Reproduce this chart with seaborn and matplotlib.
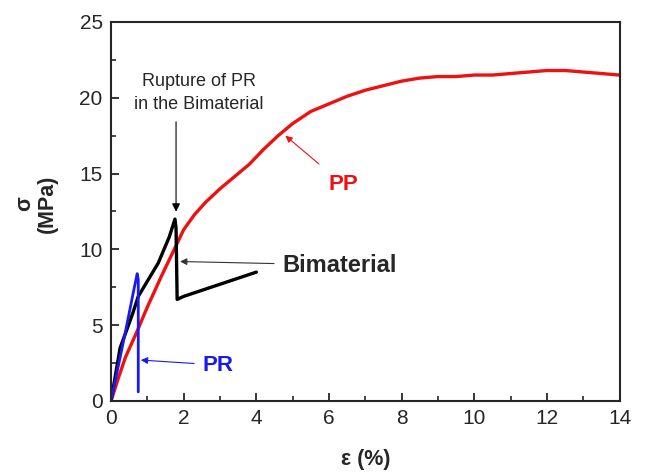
import matplotlib
matplotlib.use("Agg")
import matplotlib.pyplot as plt
import seaborn as sns
import pandas as pd
from matplotlib.ticker import MultipleLocator

# PP curve
pp_x = [0, 0.2, 0.4, 0.7, 1.0, 1.4, 1.8, 2.0, 2.3, 2.6, 3.0, 3.4, 3.8, 4.2, 4.6, 5.0, 5.5, 6.0, 6.5, 7.0, 7.5, 8.0, 8.5, 9.0,
        9.5, 10.0, 10.5, 11.0, 11.5, 12.0, 12.5, 13.0, 13.5, 14.0]
pp_y = [0, 1.5, 2.9, 4.5, 6.2, 8.3, 10.3, 11.3, 12.3, 13.1, 14.0, 14.8, 15.6, 16.6, 17.5, 18.3, 19.1, 19.6, 20.1, 20.5, 20.8, 21.1, 21.3, 21.4,
        21.4, 21.5, 21.5, 21.6, 21.7, 21.8, 21.8, 21.7, 21.6, 21.5]
# Bimaterial curve
bi_x = [0, 0.25, 0.45, 0.6, 0.75, 1.0, 1.3, 1.6, 1.76, 1.79, 1.82, 2.0, 2.5, 3.0, 3.5, 4.0]
bi_y = [0, 3.5, 4.8, 5.8, 6.9, 7.9, 9.1, 10.8, 12.0, 11.4, 6.7, 6.9, 7.3, 7.7, 8.1, 8.5]
# PR curve
pr_x = [0, 0.2, 0.4, 0.6, 0.72, 0.75, 0.75]
pr_y = [0, 2.3, 4.6, 7.0, 8.4, 8.0, 0.6]

x_ticks = [0, 2, 4, 6, 8, 10, 12, 14]
y_ticks = [0, 5, 10, 15, 20, 25]

sns.set_style("ticks")
plt.rcParams['font.family'] = ['Liberation Sans', 'DejaVu Sans']

fig = plt.figure(figsize=(6.47, 4.76), dpi=100)
ax = fig.add_axes([0.1716, 0.1576, 0.786, 0.7962])

for xs, ys, col, lw in [(pp_x, pp_y, '#ee1111', 2.4), (bi_x, bi_y, 'black', 2.4), (pr_x, pr_y, '#1a1aee', 2.0)]:
    df = pd.DataFrame({'x': xs, 'y': ys})
    sns.lineplot(data=df, x='x', y='y', ax=ax, color=col, lw=lw, sort=False, estimator=None)

ax.set_xlim(0, 14)
ax.set_ylim(0, 25)
ax.set_xticks(x_ticks)
ax.set_yticks(y_ticks)
ax.xaxis.set_minor_locator(MultipleLocator(1))
ax.yaxis.set_minor_locator(MultipleLocator(2.5))
ax.tick_params(which='major', direction='in', length=6, width=1.3, labelsize=15, pad=6, top=False, right=False)
ax.tick_params(which='minor', direction='in', length=3.5, width=1.2, top=False, right=False)
for s in ax.spines.values():
    s.set_linewidth(1.5)
    s.set_visible(True)

ax.set_xlabel('ε (%)', fontsize=15.5, fontweight='bold')
ax.set_ylabel('σ\n(MPa)', fontsize=15.5, fontweight='bold', linespacing=1.15)
ax.xaxis.set_label_coords(0.5, -0.128)
ax.yaxis.set_label_coords(-0.104, 0.52)

ax.text(2.42, 20.3, 'Rupture of PR\nin the Bimaterial', fontsize=13, ha='center', va='center', linespacing=1.45)
ax.annotate('', xy=(1.79, 12.3), xytext=(1.79, 18.6),
            arrowprops=dict(arrowstyle='-|>', color='black', lw=0.8, mutation_scale=12))
ax.annotate('Bimaterial', xy=(1.9, 9.2), xytext=(4.73, 8.97), fontsize=17, fontweight='bold',
            ha='left', va='center',
            arrowprops=dict(arrowstyle='-|>', color='#333333', lw=0.8, mutation_scale=10, shrinkA=4, shrinkB=0))
ax.annotate('PR', xy=(0.82, 2.7), xytext=(2.53, 2.37), fontsize=16, fontweight='bold', color='#1a1aee',
            ha='left', va='center',
            arrowprops=dict(arrowstyle='-|>', color='#1a1aee', lw=0.8, mutation_scale=10, shrinkA=4, shrinkB=0))
ax.annotate('PP', xy=(4.8, 17.5), xytext=(6.0, 14.25), fontsize=16, fontweight='bold', color='#ee1111',
            ha='left', va='center',
            arrowprops=dict(arrowstyle='-|>', color='#ee1111', lw=0.8, mutation_scale=10, shrinkA=8, shrinkB=0))

fig.savefig('out.png', dpi=100)
